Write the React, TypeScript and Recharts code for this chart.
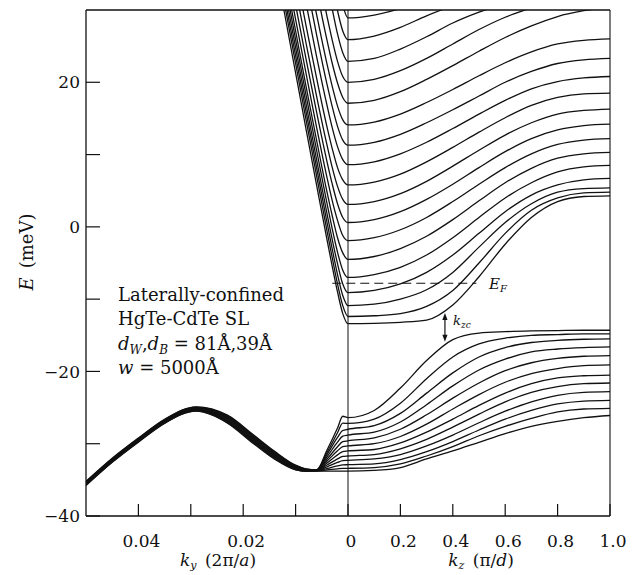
import React from 'react';
import { LineChart, Line, XAxis, YAxis, ReferenceLine } from 'recharts';

const WIDTH = 637;
const HEIGHT = 575;
const PLOT_LEFT = 86;
const PLOT_BOTTOM = 516;
const INK = '#111';
const SERIF = '"DejaVu Serif", "Liberation Serif", serif';

// left panel: k_y (2pi/a) from 0.05 down to 0, drawn as wide as k_z 0..1
const KY_SPAN = 0.05;

// sample points
const kyUpper = [0.014, 0.012, 0.01, 0.008, 0.006, 0.004, 0.003, 0.002, 0.001];
const kyLower = [0.05, 0.045, 0.04, 0.035, 0.029, 0.023, 0.018, 0.014, 0.01, 0.008, 0.006, 0.004, 0.002, 0.001];
const kz = [0, 0.1, 0.2, 0.3, 0.4, 0.5, 0.6, 0.7, 0.8, 0.9, 1.0];

// conduction subbands, left panel (meV at kyUpper), null = above the frame
const upperLeft: (number | null)[][] = [
  [36.9, 29.1, 21.3, 13.5, 5.8, -1.8, -5.5, -9.0, -12.0],
  [null, 30.4, 22.6, 14.8, 7.1, -0.6, -4.3, -7.9, -10.9],
  [null, 31.4, 23.7, 15.9, 8.2, 0.6, -3.1, -6.6, -9.5],
  [null, 32.5, 24.8, 17.0, 9.3, 1.8, -1.8, -5.1, -7.9],
  [null, 33.7, 25.9, 18.2, 10.6, 3.2, -0.3, -3.5, -6.0],
  [null, 34.8, 27.1, 19.4, 12.0, 4.8, 1.5, -1.5, -3.6],
  [null, 36.4, 28.7, 21.2, 13.8, 6.8, 3.6, 0.9, -1.2],
  [null, null, 30.7, 23.2, 15.9, 9.0, 5.9, 3.2, 1.3],
  [null, null, 32.9, 25.4, 18.1, 11.3, 8.2, 5.6, 3.8],
  [null, null, 35.3, 27.8, 20.6, 13.8, 10.8, 8.2, 6.5],
  [null, null, null, 30.9, 23.6, 16.8, 13.7, 11.1, 9.3],
  [null, null, null, 34.0, 26.6, 19.7, 16.6, 13.9, 12.0],
  [null, null, null, 36.7, 29.4, 22.5, 19.4, 16.7, 14.8],
  [null, null, null, null, 32.8, 25.8, 22.6, 19.9, 17.9],
  [null, null, null, null, 36.2, 29.1, 25.8, 22.9, 20.8],
  [null, null, null, null, null, 33.6, 30.1, 26.7, 24.1],
  [null, null, null, null, null, null, 33.3, 29.9, 27.1],
  [null, null, null, null, null, null, null, null, 30.7],
];

// conduction subbands, right panel (meV at kz)
const upperRight: (number | null)[][] = [
  [-13.4, -13.35, -13.2, -12.9, -10.8, -6.9, -2.4, 1.3, 3.5, 4.2, 4.3],
  [-12.4, -12.3, -12.0, -11.0, -8.8, -5.0, -0.9, 2.3, 4.0, 4.7, 4.8],
  [-10.9, -10.7, -10.0, -8.7, -6.3, -2.8, 0.6, 3.2, 4.8, 5.3, 5.4],
  [-9.1, -8.8, -7.9, -6.3, -3.9, -0.9, 2.1, 4.4, 5.8, 6.5, 6.7],
  [-7.0, -6.6, -5.6, -3.9, -1.5, 1.3, 4.0, 6.1, 7.6, 8.3, 8.5],
  [-4.5, -4.1, -3.0, -1.3, 1.0, 3.6, 6.1, 8.1, 9.5, 10.1, 10.3],
  [-1.9, -1.5, -0.4, 1.3, 3.5, 5.9, 8.2, 10.1, 11.4, 12.0, 12.2],
  [0.6, 1.0, 2.1, 3.8, 5.9, 8.2, 10.4, 12.2, 13.4, 14.0, 14.2],
  [3.1, 3.5, 4.6, 6.3, 8.4, 10.6, 12.7, 14.4, 15.6, 16.1, 16.3],
  [5.8, 6.2, 7.3, 9.0, 11.0, 13.1, 15.1, 16.8, 17.9, 18.4, 18.5],
  [8.6, 9.0, 10.1, 11.7, 13.6, 15.6, 17.5, 19.1, 20.1, 20.6, 20.8],
  [11.3, 11.7, 12.8, 14.4, 16.2, 18.1, 20.0, 21.5, 22.6, 23.1, 23.3],
  [14.1, 14.5, 15.6, 17.2, 19.0, 20.9, 22.7, 24.2, 25.3, 25.8, 26.0],
  [17.1, 17.5, 18.7, 20.4, 22.3, 24.3, 26.2, 27.8, 29.1, 29.9, 30.4],
  [20.0, 20.4, 21.6, 23.3, 25.3, 27.3, 29.0, 30.3, null, null, null],
  [22.9, 23.3, 24.6, 26.3, 28.2, 29.7, 30.9, null, null, null, null],
  [25.9, 26.4, 27.6, 29.2, 30.6, null, null, null, null, null, null],
  [28.9, 29.3, 30.2, null, null, null, null, null, null, null, null],
];

// valence subbands, left panel (meV at kyLower)
const lowerLeft: number[][] = [
  [-35.22, -32.02, -29.22, -26.62, -24.9, -26.05, -28.8, -31.05, -32.97, -33.49, -33.62, -30.88, -27.84, -26.2],
  [-35.28, -32.08, -29.28, -26.68, -24.95, -26.15, -28.91, -31.15, -33.03, -33.52, -33.63, -31.19, -28.49, -27.15],
  [-35.33, -32.13, -29.33, -26.73, -25.01, -26.25, -29.02, -31.25, -33.09, -33.55, -33.65, -31.5, -29.13, -28.17],
  [-35.38, -32.18, -29.38, -26.78, -25.06, -26.35, -29.13, -31.35, -33.15, -33.58, -33.66, -31.81, -29.77, -28.95],
  [-35.43, -32.23, -29.43, -26.83, -25.12, -26.45, -29.24, -31.45, -33.21, -33.61, -33.68, -32.13, -30.42, -29.72],
  [-35.48, -32.28, -29.48, -26.88, -25.17, -26.55, -29.35, -31.55, -33.27, -33.64, -33.69, -32.4, -30.98, -30.4],
  [-35.53, -32.33, -29.53, -26.93, -25.23, -26.65, -29.46, -31.65, -33.33, -33.67, -33.71, -32.68, -31.54, -31.08],
  [-35.58, -32.38, -29.58, -26.98, -25.28, -26.75, -29.57, -31.75, -33.39, -33.7, -33.72, -32.95, -32.1, -31.76],
  [-35.63, -32.43, -29.63, -27.03, -25.34, -26.85, -29.68, -31.85, -33.45, -33.73, -33.74, -33.19, -32.59, -32.34],
  [-35.68, -32.48, -29.68, -27.08, -25.39, -26.95, -29.79, -31.95, -33.51, -33.76, -33.75, -33.43, -33.07, -32.93],
  [-35.73, -32.53, -29.73, -27.13, -25.45, -27.05, -29.9, -32.05, -33.57, -33.79, -33.77, -33.63, -33.47, -33.41],
  [-35.78, -32.58, -29.78, -27.18, -25.5, -27.15, -30.01, -32.15, -33.63, -33.82, -33.78, -33.79, -33.8, -33.8],
];

// valence subbands, right panel (meV at kz)
const lowerRight: number[][] = [
  [-26.4, -25.4, -22.3, -18.5, -15.6, -14.7, -14.5, -14.4, -14.35, -14.3, -14.3],
  [-27.2, -26.6, -24.4, -21.0, -18.0, -16.2, -15.4, -15.0, -14.9, -14.8, -14.8],
  [-28.0, -27.5, -25.8, -23.0, -20.2, -18.0, -16.7, -16.0, -15.7, -15.55, -15.5],
  [-28.8, -28.4, -27.0, -24.6, -22.0, -19.8, -18.3, -17.3, -16.9, -16.7, -16.6],
  [-29.6, -29.2, -28.0, -26.0, -23.7, -21.6, -19.9, -18.8, -18.2, -17.9, -17.8],
  [-30.3, -30.0, -29.0, -27.3, -25.2, -23.2, -21.5, -20.3, -19.6, -19.2, -19.1],
  [-31.0, -30.8, -29.9, -28.4, -26.6, -24.7, -23.0, -21.7, -20.9, -20.6, -20.5],
  [-31.7, -31.5, -30.7, -29.4, -27.7, -25.9, -24.2, -22.9, -22.1, -21.7, -21.6],
  [-32.3, -32.1, -31.5, -30.3, -28.8, -27.1, -25.5, -24.2, -23.3, -22.9, -22.8],
  [-32.9, -32.8, -32.2, -31.1, -29.7, -28.1, -26.6, -25.4, -24.5, -24.1, -24.0],
  [-33.4, -33.3, -32.8, -31.7, -30.4, -28.9, -27.6, -26.5, -25.6, -25.2, -25.1],
  [-33.8, -33.7, -33.3, -32.1, -31.0, -29.8, -28.6, -27.6, -26.9, -26.4, -26.1],
];

// Fermi level and the k_zc gap marker
const fermiEnergy = -7.8;
const fermiFrom = -0.06; // panel units (k_y side)
const fermiTo = 0.49; // k_z
const kzc = 0.37;
const kzcTop = -11.9;
const kzcBottom = -15.9;

// axes
const yTicks = [-40, -30, -20, -10, 0, 10, 20];
const yTickLabels = ['\u221240', '', '\u221220', '', '0', '', '20'];
const xTicks = [-0.8, -0.6, -0.4, -0.2, 0, 0.2, 0.4, 0.6, 0.8, 1.0];
const xTickLabels = ['0.04', '', '0.02', '', '0', '0.2', '0.4', '0.6', '0.8', '1.0'];

type Pt = { u: number; e: number };

const buildBand = (kyGrid: number[], left: (number | null)[], right: (number | null)[]): Pt[] => {
  const pts: Pt[] = [];
  kyGrid.forEach((k, i) => {
    const v = left[i];
    if (v != null) pts.push({ u: -k / KY_SPAN, e: v });
  });
  kz.forEach((k, i) => {
    const v = right[i];
    if (v != null) pts.push({ u: k, e: v });
  });
  return pts;
};

const upperBands = upperLeft.map((l, i) => buildBand(kyUpper, l, upperRight[i]));
const lowerBands = lowerLeft.map((l, i) => buildBand(kyLower, l, lowerRight[i]));

const findLabel = (ticks: number[], labels: string[], v: number) => {
  const i = ticks.findIndex((t) => Math.abs(t - v) < 1e-9);
  return i >= 0 ? labels[i] : '';
};

const XTick = (props: any) => {
  const { x, payload } = props;
  const label = findLabel(xTicks, xTickLabels, payload.value);
  return (
    <g>
      <line x1={x} x2={x} y1={PLOT_BOTTOM} y2={PLOT_BOTTOM - 12} stroke={INK} strokeWidth={1.2} />
      {label && (
        <text x={x + 3} y={547} textAnchor="middle" fontFamily={SERIF} fontSize={17} fill={INK}>
          {label}
        </text>
      )}
    </g>
  );
};

const YTick = (props: any) => {
  const { y, payload } = props;
  const label = findLabel(yTicks, yTickLabels, payload.value);
  return (
    <g>
      <line x1={PLOT_LEFT} x2={PLOT_LEFT + 14} y1={y} y2={y} stroke={INK} strokeWidth={1.2} />
      {label && (
        <text x={PLOT_LEFT - 6} y={y} dy="0.36em" textAnchor="end" fontFamily={SERIF} fontSize={17} fill={INK}>
          {label}
        </text>
      )}
    </g>
  );
};

// double headed arrow between the two bands at k_zc
const GapArrow = (p: any) => {
  const { x1, y1, x2, y2 } = p;
  return (
    <g>
      <line x1={x1} y1={y1 + 4} x2={x2} y2={y2 - 4} stroke={INK} strokeWidth={1.2} />
      <polygon points={`${x1},${y1} ${x1 - 2.6},${y1 + 7} ${x1 + 2.6},${y1 + 7}`} fill={INK} />
      <polygon points={`${x2},${y2} ${x2 - 2.6},${y2 - 7} ${x2 + 2.6},${y2 - 7}`} fill={INK} />
    </g>
  );
};

const App = () => {
  return (
    <div style={{ position: 'absolute', left: 0, top: 0, width: WIDTH, height: HEIGHT, background: '#fff' }}>
      <LineChart width={WIDTH} height={HEIGHT} margin={{ top: 10, right: 27, left: 0, bottom: 0 }}>
        <XAxis
          dataKey="u"
          type="number"
          domain={[-1, 1]}
          ticks={xTicks}
          interval={0}
          allowDataOverflow
          height={59}
          tickLine={false}
          tickSize={0}
          tick={(p: any) => <XTick {...p} />}
          axisLine={{ stroke: INK, strokeWidth: 1.3 }}
        />
        <YAxis
          type="number"
          domain={[-40, 30]}
          ticks={yTicks}
          interval={0}
          allowDataOverflow
          width={86}
          tickLine={false}
          tickSize={0}
          tick={(p: any) => <YTick {...p} />}
          axisLine={{ stroke: INK, strokeWidth: 1.3 }}
        />
        <ReferenceLine y={30} stroke={INK} strokeWidth={1.3} />
        <ReferenceLine x={1} stroke={INK} strokeWidth={1.1} />
        <ReferenceLine x={0} stroke={INK} strokeWidth={1} />
        {upperBands.map((d, i) => (
          <Line
            key={`c${i}`}
            data={d}
            dataKey="e"
            type="monotone"
            stroke={INK}
            strokeWidth={1.3}
            dot={false}
            activeDot={false}
            isAnimationActive={false}
          />
        ))}
        {lowerBands.map((d, i) => (
          <Line
            key={`v${i}`}
            data={d}
            dataKey="e"
            type="monotone"
            stroke={INK}
            strokeWidth={1.3}
            dot={false}
            activeDot={false}
            isAnimationActive={false}
          />
        ))}
        <ReferenceLine
          segment={[
            { x: fermiFrom, y: fermiEnergy },
            { x: fermiTo, y: fermiEnergy },
          ]}
          stroke={INK}
          strokeWidth={1.2}
          strokeDasharray="9 5"
        />
        <ReferenceLine
          segment={[
            { x: kzc, y: kzcTop },
            { x: kzc, y: kzcBottom },
          ]}
          shape={(p: any) => <GapArrow {...p} />}
        />
      </LineChart>

      <svg
        width={WIDTH}
        height={HEIGHT}
        style={{ position: 'absolute', left: 0, top: 0, pointerEvents: 'none' }}
        fontFamily={SERIF}
        fill={INK}
      >
        <text x={118} y={301} fontSize={18}>Laterally-confined</text>
        <text x={118} y={325} fontSize={18}>HgTe-CdTe SL</text>
        <text x={118} y={350} fontSize={18}>
          <tspan fontStyle="italic">d</tspan>
          <tspan fontSize={12} dy={4} fontStyle="italic">W</tspan>
          <tspan dy={-4}>,</tspan>
          <tspan fontStyle="italic">d</tspan>
          <tspan fontSize={12} dy={4} fontStyle="italic">B</tspan>
          <tspan dy={-4}>{' = 81\u00c5,39\u00c5'}</tspan>
        </text>
        <text x={118} y={374} fontSize={18}>
          <tspan fontStyle="italic">w</tspan>
          <tspan>{' = 5000\u00c5'}</tspan>
        </text>

        <text x={489} y={289} fontSize={15} fontStyle="italic">
          E<tspan fontSize={10} dy={3}>F</tspan>
        </text>
        <text x={453} y={325} fontSize={13} fontStyle="italic">
          k<tspan fontSize={9} dy={3}>zc</tspan>
        </text>

        <text x={218} y={566} textAnchor="middle" fontSize={17}>
          <tspan fontStyle="italic">k</tspan>
          <tspan fontSize={11} dy={3} fontStyle="italic">y</tspan>
          <tspan dy={-3}>{'\u2002(2\u03c0/'}</tspan>
          <tspan fontStyle="italic">a</tspan>
          <tspan>)</tspan>
        </text>
        <text x={481} y={566} textAnchor="middle" fontSize={17}>
          <tspan fontStyle="italic">k</tspan>
          <tspan fontSize={11} dy={3} fontStyle="italic">z</tspan>
          <tspan dy={-3}>{'\u2002(\u03c0/'}</tspan>
          <tspan fontStyle="italic">d</tspan>
          <tspan>)</tspan>
        </text>
        <text transform="translate(33,252) rotate(-90)" textAnchor="middle" fontSize={18}>
          <tspan fontStyle="italic">E</tspan>
          <tspan>{'\u2002(meV)'}</tspan>
        </text>
      </svg>
    </div>
  );
};

export default App;
